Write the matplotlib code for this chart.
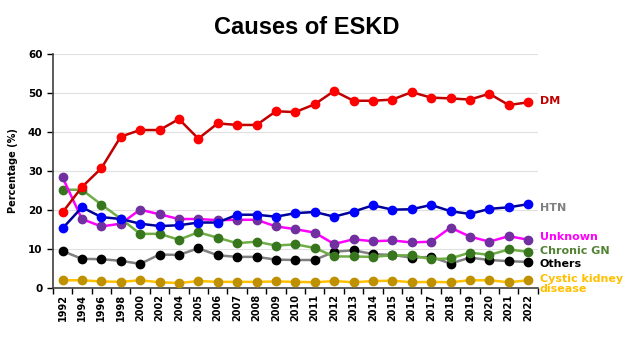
import matplotlib
matplotlib.use("Agg")
import matplotlib.pyplot as plt
from matplotlib import font_manager

years = ["1992", "1994", "1996", "1998", "2000", "2002", "2004", "2005", "2006", "2007",
         "2008", "2009", "2010", "2011", "2012", "2013", "2014", "2015", "2016", "2017",
         "2018", "2019", "2020", "2021", "2022"]

dm = [19.4, 25.9, 30.7, 38.8, 40.5, 40.5, 43.3, 38.3, 42.2, 41.8, 41.8, 45.3, 45.1,
      47.1, 50.5, 48.0, 48.0, 48.3, 50.2, 48.8, 48.6, 48.3, 49.8, 46.9, 47.6]
htn = [15.3, 20.7, 18.2, 17.7, 16.5, 15.9, 16.1, 16.8, 16.8, 18.8, 18.8, 18.3, 19.2,
       19.5, 18.3, 19.6, 21.2, 20.1, 20.2, 21.3, 19.7, 19.0, 20.3, 20.7, 21.5]
unknown = [28.4, 17.7, 15.8, 16.5, 20.1, 18.9, 17.7, 17.7, 17.4, 17.5, 17.5, 15.8, 15.1,
           14.2, 11.3, 12.5, 12.0, 12.2, 11.7, 11.9, 15.5, 13.2, 11.9, 13.3, 12.4]
chronic_gn = [25.2, 25.2, 21.4, 17.8, 13.9, 13.9, 12.4, 14.3, 12.9, 11.5, 11.9, 10.9, 11.2,
              10.3, 8.1, 8.1, 8.0, 8.4, 8.4, 7.4, 7.6, 9.1, 8.5, 9.9, 9.3]
others = [9.5, 7.5, 7.4, 7.0, 6.2, 8.6, 8.5, 10.2, 8.4, 8.0, 8.0, 7.3, 7.2,
          7.2, 9.3, 9.7, 8.7, 8.5, 7.8, 8.0, 6.3, 7.8, 7.2, 6.9, 6.7]
cystic = [2.0, 2.0, 1.7, 1.6, 2.0, 1.5, 1.3, 1.8, 1.6, 1.6, 1.6, 1.7, 1.6,
          1.5, 1.8, 1.5, 1.8, 1.9, 1.5, 1.6, 1.5, 2.0, 2.0, 1.5, 2.0]

series = [
    ("Cystic kidney\ndisease", cystic, "#FFC000", "#BF9000", "#FFC000"),
    ("Others", others, "#808080", "#000000", "#000000"),
    ("Chronic GN", chronic_gn, "#70AD47", "#38761D", "#548235"),
    ("Unknown", unknown, "#FF00FF", "#7030A0", "#FF00FF"),
    ("HTN", htn, "#000099", "#0000FF", "#808080"),
    ("DM", dm, "#C00000", "#FF0000", "#C00000"),
]

fig = plt.figure(figsize=(6.29, 3.57), dpi=100)
ax = fig.add_axes([0.084, 0.193, 0.771, 0.656])
x = list(range(len(years)))
for name, vals, lc, mc, tc in series:
    ax.plot(x, vals, color=lc, lw=1.8, marker="o", ms=6,
            markerfacecolor=mc, markeredgecolor=mc, zorder=3)

ax.set_xlim(-0.5, len(years) - 0.5)
ax.set_ylim(0, 60)
ax.set_yticks(range(0, 61, 10))
ax.set_xticks(x)
ax.set_xticklabels(years, rotation=90, fontsize=7, fontweight="bold")
ax.tick_params(axis="x", length=0, pad=4)
ax.set_xticks([i - 0.5 for i in range(len(years) + 1)], minor=True)
ax.tick_params(axis="x", which="minor", length=4, width=1, direction="out")
ax.tick_params(axis="y", labelsize=7.5, length=4, width=1, direction="out")
for lbl in ax.get_yticklabels():
    lbl.set_fontweight("bold")
ax.grid(axis="y", color="#E0E0E0", lw=0.8, zorder=0)
ax.set_axisbelow(True)
for s in ["top", "right"]:
    ax.spines[s].set_visible(False)
ax.spines["left"].set_color("#404040")
ax.spines["bottom"].set_color("#404040")
ax.spines["left"].set_linewidth(1.2)
ax.spines["bottom"].set_linewidth(1.2)
ax.set_ylabel("Percentage (%)", fontsize=7, fontweight="bold", labelpad=7)

title_font = font_manager.FontProperties(family=["Liberation Sans", "DejaVu Sans"],
                                         weight="bold", stretch="normal", size=17)
fig.suptitle("Causes of ESKD", x=0.488, y=0.955, fontproperties=title_font)

label_pos = {
    "DM": 101, "HTN": 208, "Unknown": 237, "Chronic GN": 251, "Others": 264,
    "Cystic kidney\ndisease": 284,
}
for name, vals, lc, mc, tc in series:
    fig.text(540 / 629, 1 - label_pos[name] / 357, name, color=tc, fontsize=8,
             fontweight="bold", va="center", ha="left", linespacing=1.0)

fig.savefig("out.png", dpi=100)
